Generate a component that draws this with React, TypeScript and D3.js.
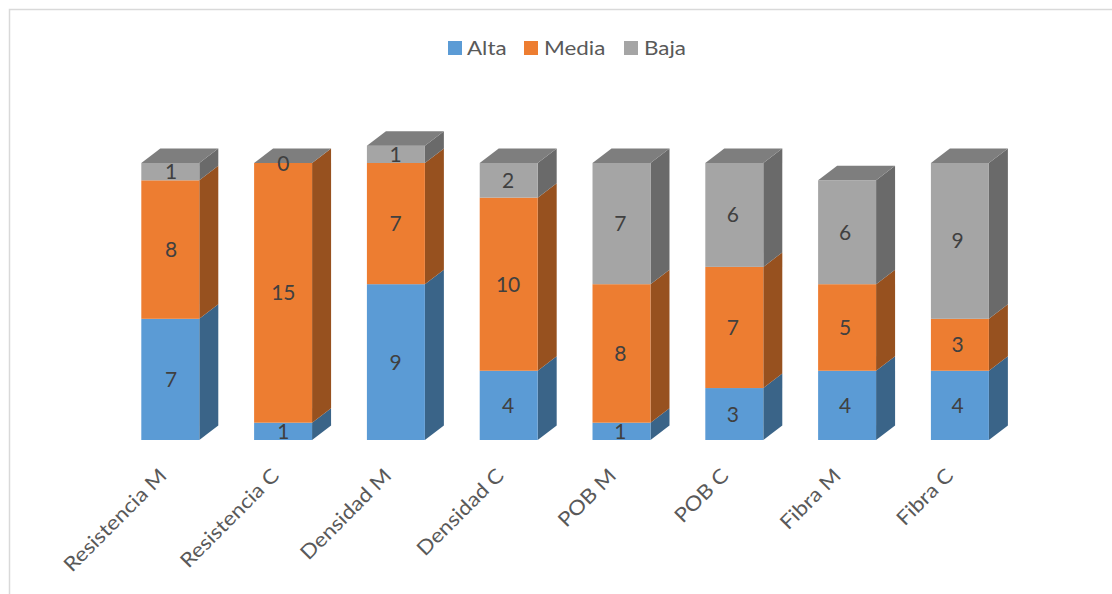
import React from "react";
import * as d3 from "d3";

const categories = ["Resistencia M", "Resistencia C", "Densidad M", "Densidad C", "POB M", "POB C", "Fibra M", "Fibra C"];
const seriesNames = ["Alta", "Media", "Baja"];
const alta = [7, 1, 9, 4, 1, 3, 4, 4];
const media = [8, 15, 7, 10, 8, 7, 5, 3];
const baja = [1, 0, 1, 2, 7, 6, 6, 9];
const frontColors = ["#5B9BD5", "#ED7D31", "#A5A5A5"];
const sideColors = ["#3A6488", "#97511F", "#6A6A6A"];
const topColor = "#7E7E7E";
const labelColor = "#404040";
const axisColor = "#595959";
const fontFamily = "Lato, sans-serif";
const textStretch = 1.12;

const rows = categories.map((name, i) => ({ name, Alta: alta[i], Media: media[i], Baja: baja[i] }));
const stacked = d3.stack<any>().keys(seriesNames)(rows);

const x = d3.scaleBand().domain(categories).range([113.9, 1016.3]).paddingInner(0.486).paddingOuter(0.243);
const y = d3.scaleLinear().domain([0, 16]).range([440, 163]);
// Text sits on its own slightly tighter grid than the columns.
const labelX = d3.scalePoint().domain(categories).range([171, 957.5]);
const depthX = 19;
const depthY = 14.5;

const legendItems = [
  { swatch: 448, text: 467 },
  { swatch: 524, text: 544 },
  { swatch: 624, text: 644 },
];

const poly = (pts: [number, number][]) => pts.map((p) => p.join(",")).join(" ");

export default function App() {
  const w = x.bandwidth();
  return (
    <svg
      width={1112}
      height={594}
      style={{ position: "absolute", left: 0, top: 0, background: "#fff" }}
      fontFamily={fontFamily}
    >
      <path d="M9.5 594V9.5H1112" fill="none" stroke="#D9D9D9" strokeWidth={1.5} />

      {legendItems.map((item, i) => (
        <g key={seriesNames[i]}>
          <rect x={item.swatch} y={41} width={14} height={14} fill={frontColors[i]} />
          <text transform={`translate(${item.text},54.5) scale(${textStretch},1)`} fontSize={20} fill={axisColor}>
            {seriesNames[i]}
          </text>
        </g>
      ))}

      {categories.map((name, c) => {
        const x0 = x(name)!;
        const x1 = x0 + w;
        const top = y(alta[c] + media[c] + baja[c]);
        return (
          <g key={name}>
            {stacked.map((layer, s) => {
              const yb = y(layer[c][0]);
              const yt = y(layer[c][1]);
              if (yb === yt) return null;
              return (
                <g key={layer.key}>
                  <polygon
                    points={poly([[x1, yb], [x1 + depthX, yb - depthY], [x1 + depthX, yt - depthY], [x1, yt]])}
                    fill={sideColors[s]}
                  />
                  <rect x={x0} y={yt} width={w} height={yb - yt} fill={frontColors[s]} />
                </g>
              );
            })}
            <polygon
              points={poly([[x0, top], [x0 + depthX, top - depthY], [x1 + depthX, top - depthY], [x1, top]])}
              fill={topColor}
            />
          </g>
        );
      })}

      {categories.map((name, c) =>
        stacked.map((layer) => (
          <text
            key={name + layer.key}
            x={labelX(name)}
            y={y((layer[c][0] + layer[c][1]) / 2) + 7.5}
            textAnchor="middle"
            fontSize={21}
            fill={labelColor}
          >
            {layer[c][1] - layer[c][0]}
          </text>
        ))
      )}

      {categories.map((name) => (
        <text
          key={name}
          transform={`translate(${labelX(name)! - 3},477) rotate(-45) scale(${textStretch},1)`}
          textAnchor="end"
          fontSize={20}
          fill={axisColor}
        >
          {name}
        </text>
      ))}
    </svg>
  );
}
